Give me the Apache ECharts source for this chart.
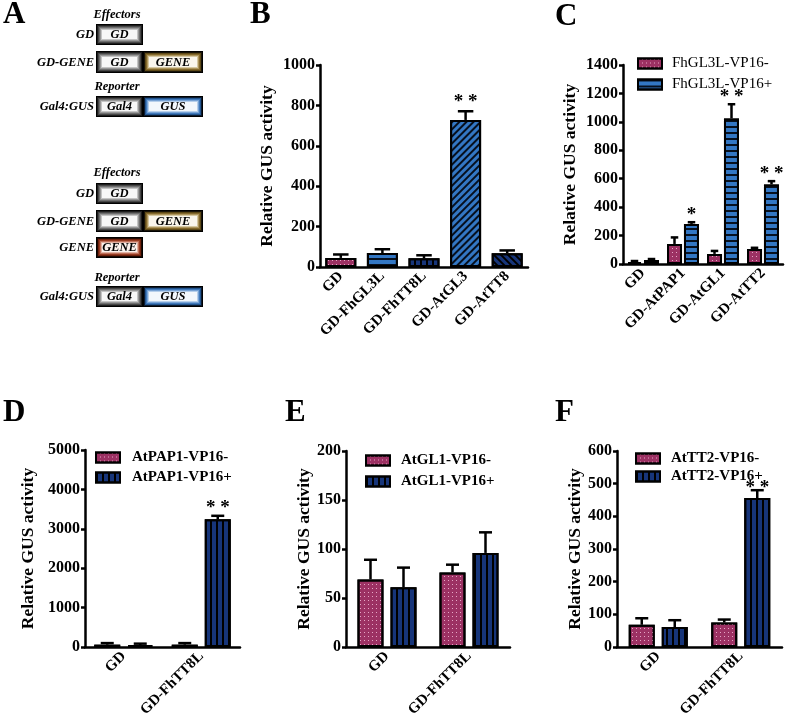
<!DOCTYPE html>
<html><head><meta charset="utf-8">
<script src="https://cdn.jsdelivr.net/npm/echarts@6/dist/echarts.min.js"></script>
<style>html,body{margin:0;padding:0;background:#fff}#c{width:787px;height:723px}</style>
</head><body><div id="c"></div>
<script>
// ---------------- data ----------------
// Panel B
const catsB = ['GD', 'GD-FhGL3L', 'GD-FhTT8L', 'GD-AtGL3', 'GD-AtTT8'];
const valsB = [45, 69, 43, 728, 68];
const errsB = [17, 19, 15, 43, 14];
const starsB = ['', '', '', '**', ''];
const axisB = [0, 1000, 200];
// Panel C
const catsC = ['GD', 'GD-AtPAP1', 'GD-AtGL1', 'GD-AtTT2'];
const namesC = ['FhGL3L-VP16-', 'FhGL3L-VP16+'];
const valsCm = [14, 141, 71, 106];
const errsCm = [7, 46, 21, 8];
const valsCp = [28, 282, 1024, 560];
const errsCp = [7, 12, 100, 23];
const starsCp = ['', '*', '**', '**'];
const axisC = [0, 1400, 200];
// Panels D, E, F
const catsDEF = ['GD', 'GD-FhTT8L'];
const namesD = ['AtPAP1-VP16-', 'AtPAP1-VP16+'];
const valsDm = [59, 59];
const errsDm = [40, 40];
const valsDp = [45, 3240];
const errsDp = [40, 90];
const starsDp = ['', '**'];
const axisD = [0, 5000, 1000];
const namesE = ['AtGL1-VP16-', 'AtGL1-VP16+'];
const valsEm = [69, 76];
const errsEm = [20, 8];
const valsEp = [61, 96];
const errsEp = [20, 21];
const axisE = [0, 200, 50];
const namesF = ['AtTT2-VP16-', 'AtTT2-VP16+'];
const valsFm = [68, 75];
const errsFm = [20, 9];
const valsFp = [61, 456];
const errsFp = [21, 24];
const starsFp = ['', '**'];
const axisF = [0, 600, 100];
const yName = 'Relative GUS activity';

// ---------------- styles ----------------
const FONT = 'Liberation Serif';
const PINK = '#9c3163', BLUE = '#3377c4', NAVY = '#17357a';
const decDots = {symbol: 'rect', symbolSize: 1, dashArrayX: [1, 3], dashArrayY: [1, 3], color: '#e6a6c6'};
const decH = {symbol: 'rect', symbolSize: 1, dashArrayX: [1, 0], dashArrayY: [1.5, 3.5], color: '#06101f'};
const decV = {symbol: 'rect', symbolSize: 1, dashArrayX: [1.5, 3.5], dashArrayY: [1, 0], color: '#000'};
const decD1 = {symbol: 'rect', symbolSize: 1, dashArrayX: [1, 0], dashArrayY: [1.3, 2.2], rotation: -Math.PI / 4, color: '#06101f'};
const decD2 = {symbol: 'rect', symbolSize: 1, dashArrayX: [1, 0], dashArrayY: [1.3, 2.7], rotation: Math.PI / 4, color: '#000'};
const stPink = {color: PINK, borderColor: '#000', borderWidth: 2, decal: decDots};
const stBlueH = {color: BLUE, borderColor: '#000', borderWidth: 2, decal: decH};
const stNavyV = {color: NAVY, borderColor: '#000', borderWidth: 2, decal: decV};
const stBlueD = {color: BLUE, borderColor: '#000', borderWidth: 2, decal: decD1};
const stNavyD = {color: NAVY, borderColor: '#000', borderWidth: 2, decal: decD2};
const stylesB = [stPink, stBlueH, stNavyV, stBlueD, stNavyD];

const grids = [
  {left: 320, top: 65, width: 208, height: 202},   // B
  {left: 623, top: 65, width: 160, height: 199},   // C
  {left: 85, top: 450, width: 155, height: 197},   // D
  {left: 346, top: 451, width: 164, height: 196},  // E
  {left: 617, top: 451, width: 165, height: 196}   // F
];
const nameGaps = [44, 44, 48, 33, 30];
const axes = [axisB, axisC, axisD, axisE, axisF];
const catsAll = [catsB, catsC, catsDEF, catsDEF, catsDEF];

const xAxis = catsAll.map((c, i) => ({
  type: 'category', gridIndex: i, data: c,
  axisLine: {lineStyle: {color: '#000', width: 2.5}},
  axisTick: {show: false},
  axisLabel: {rotate: 45, interval: 0, margin: 7, color: '#000', fontFamily: FONT, fontWeight: 'bold', fontSize: 15}
}));
const yAxis = axes.map((a, i) => ({
  type: 'value', gridIndex: i, min: a[0], max: a[1], interval: a[2],
  name: yName, nameLocation: 'middle', nameGap: nameGaps[i],
  nameTextStyle: {color: '#000', fontFamily: FONT, fontWeight: 'bold', fontSize: 17.5},
  axisLine: {show: true, lineStyle: {color: '#000', width: 2.5}},
  axisTick: {show: true, length: 4, lineStyle: {color: '#000', width: 2.5}},
  axisLabel: {color: '#000', fontFamily: FONT, fontWeight: 'bold', fontSize: 16, margin: 5,
    formatter: v => String(v)},
  splitLine: {show: false}
}));

function errSeries(gi, vals, errs, stars, off, bw, starDy) {
  return {
    type: 'custom', xAxisIndex: gi, yAxisIndex: gi, z: 5, silent: true,
    data: vals.map((v, i) => [i, v, errs[i]]),
    renderItem: function (params, api) {
      const c = api.value(0), v = api.value(1), e = api.value(2);
      const p0 = api.coord([c, v]);
      const p1 = api.coord([c, v + e]);
      const x = p0[0] + off;
      const cw = bw * 0.5;
      const ch = [
        {type: 'line', shape: {x1: x, y1: p0[1], x2: x, y2: p1[1]}, style: {stroke: '#000', lineWidth: 2.5}},
        {type: 'line', shape: {x1: x - cw / 2, y1: p1[1], x2: x + cw / 2, y2: p1[1]}, style: {stroke: '#000', lineWidth: 2.5}}
      ];
      const s = stars ? stars[params.dataIndex] : '';
      if (s) {
        ch.push({type: 'text', style: {text: s.split('').join(' '), x: x, y: p1[1] + starDy,
          font: 'bold 19px "' + FONT + '"', fill: '#000',
          align: 'center', verticalAlign: 'middle', textAlign: 'center', textVerticalAlign: 'middle'}});
      }
      return {type: 'group', children: ch};
    }
  };
}

function barSeries(gi, name, vals, st, bw, gap) {
  return {type: 'bar', name: name, xAxisIndex: gi, yAxisIndex: gi, data: vals, barWidth: bw,
    barGap: gap, itemStyle: st};
}

const series = [];
// B
series.push({type: 'bar', name: 'B', xAxisIndex: 0, yAxisIndex: 0, barWidth: 31,
  data: valsB.map((v, i) => ({value: v, itemStyle: stylesB[i]}))});
series.push(errSeries(0, valsB, errsB, starsB, 0, 31, -9));
// C
series.push(barSeries(1, namesC[0], valsCm, stPink, 15, '13%'));
series.push(barSeries(1, namesC[1], valsCp, stBlueH, 15, '13%'));
series.push(errSeries(1, valsCm, errsCm, null, -8.5, 15, -8));
series.push(errSeries(1, valsCp, errsCp, starsCp, 8.5, 15, -7));
// D
series.push(barSeries(2, namesD[0], valsDm, stPink, 26, '27%'));
series.push(barSeries(2, namesD[1], valsDp, stNavyV, 26, '27%'));
series.push(errSeries(2, valsDm, errsDm, null, -16.5, 26, -7));
series.push(errSeries(2, valsDp, errsDp, starsDp, 16.5, 26, -8));
// E
series.push(barSeries(3, namesE[0], valsEm, stPink, 26, '27%'));
series.push(barSeries(3, namesE[1], valsEp, stNavyV, 26, '27%'));
series.push(errSeries(3, valsEm, errsEm, null, -16.5, 26, -7));
series.push(errSeries(3, valsEp, errsEp, null, 16.5, 26, -7));
// F
series.push(barSeries(4, namesF[0], valsFm, stPink, 26, '27%'));
series.push(barSeries(4, namesF[1], valsFp, stNavyV, 26, '27%'));
series.push(errSeries(4, valsFm, errsFm, null, -16.5, 26, -7));
series.push(errSeries(4, valsFp, errsFp, starsFp, 16.5, 26, -2));

function legendAt(names, left, top, gap, bold, pad) {
  return {data: names, left: left, top: top, orient: 'vertical', itemWidth: 24, itemHeight: 10, itemGap: gap,
    icon: 'rect', selectedMode: false,
    itemStyle: {borderColor: '#000', borderWidth: 2},
    textStyle: {color: '#000', fontFamily: FONT, fontSize: 15, fontWeight: bold ? 'bold' : 'normal', padding: [0, 0, 0, pad]}};
}
const legend = [
  legendAt(namesC, 632, 51, 6, false, 5),
  legendAt(namesD, 90, 445, 5, true, 7),
  legendAt(namesE, 360, 448, 6, true, 6),
  legendAt(namesF, 630, 446, 3, true, 6)
];

// ---------------- panel A & letters (graphic) ----------------
const PAL = {
  gray: ['#000', '#1e1e1e', '#474747', '#6e6e6e', '#979797', '#c4c4c4', '#f7f7f7'],
  gold: ['#000', '#1a1408', '#5e4a18', '#84692c', '#ad955c', '#d6c8a2', '#faf6ec'],
  blue: ['#000', '#0a1a30', '#23558f', '#4079bb', '#77a2d4', '#b6cfeb', '#f2f7fc'],
  red: ['#000', '#200800', '#70220e', '#983c22', '#c0705a', '#e1b1a2', '#fbf1ec']
};
const gfx = [];
function txt(s, x, y, font, align, va) {
  gfx.push({type: 'text', silent: true, style: {text: s, x: x, y: y, font: font, fill: '#000',
    align: align, verticalAlign: va, textAlign: align, textVerticalAlign: va}});
}
const FI = 'italic bold 12.5px "' + FONT + '"';
function box(x, y, w, h, pal, label) {
  PAL[pal].forEach((c, i) => gfx.push({type: 'rect', silent: true,
    shape: {x: x + i, y: y + i, width: w - 2 * i, height: h - 2 * i}, style: {fill: c}}));
  txt(label, x + w / 2, y + h / 2 + 0.5, FI, 'center', 'middle');
}
function row(label, y, h, boxes) {
  txt(label, 94, y + h / 2 + 0.5, FI, 'right', 'middle');
  boxes.forEach(b => box(b[0], y, b[1], h, b[2], b[3]));
}
// group 1
txt('Effectors', 117, 15, FI, 'center', 'middle');
row('GD', 24, 21, [[96, 47, 'gray', 'GD']]);
row('GD-GENE', 51, 22, [[96, 47, 'gray', 'GD'], [143, 60, 'gold', 'GENE']]);
txt('Reporter', 117, 87, FI, 'center', 'middle');
row('Gal4:GUS', 96, 21, [[96, 47, 'gray', 'Gal4'], [143, 60, 'blue', 'GUS']]);
// group 2
txt('Effectors', 117, 173, FI, 'center', 'middle');
row('GD', 183, 21, [[96, 47, 'gray', 'GD']]);
row('GD-GENE', 210, 22, [[96, 47, 'gray', 'GD'], [143, 60, 'gold', 'GENE']]);
row('GENE', 237, 21, [[96, 47, 'red', 'GENE']]);
txt('Reporter', 117, 278, FI, 'center', 'middle');
row('Gal4:GUS', 286, 21, [[96, 47, 'gray', 'Gal4'], [143, 60, 'blue', 'GUS']]);
// letters
const FL = 'bold 31px "' + FONT + '"';
[['A', 3, -1], ['B', 250, -1], ['C', 555, 1], ['D', 3, 397], ['E', 285, 397], ['F', 555, 397]]
  .forEach(l => txt(l[0], l[1], l[2], FL, 'left', 'top'));

const chart = echarts.init(document.getElementById('c'), null, {renderer: 'canvas'});
chart.setOption({
  animation: false,
  backgroundColor: '#fff',
  grid: grids,
  xAxis: xAxis,
  yAxis: yAxis,
  legend: legend,
  series: series,
  graphic: {elements: gfx}
});
</script>
</body></html>
